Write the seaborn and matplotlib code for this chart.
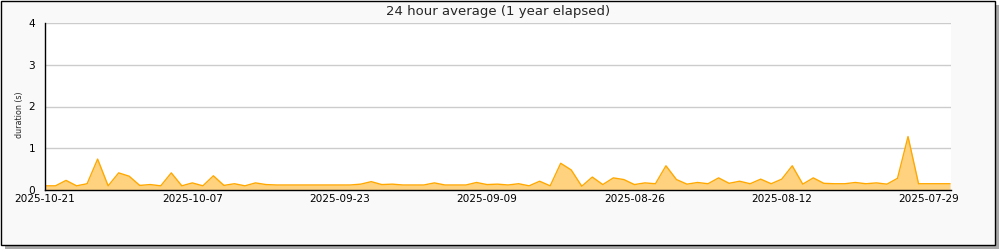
import matplotlib
matplotlib.use("Agg")
import matplotlib.pyplot as plt
import matplotlib.dates as mdates
from matplotlib.patches import Rectangle
from matplotlib.ticker import MultipleLocator
import numpy as np
import pandas as pd
import seaborn as sns

# ---- data (daily 24h averages, newest first) ----
start_date = "2025-10-21"
n_days = 87
durations = [
    0.10, 0.10, 0.23, 0.10, 0.15, 0.74, 0.10, 0.41, 0.33, 0.11,
    0.13, 0.10, 0.41, 0.10, 0.17, 0.10, 0.34, 0.11, 0.15, 0.10,
    0.17, 0.13, 0.12, 0.12, 0.12, 0.12, 0.12, 0.12, 0.12, 0.12,
    0.14, 0.20, 0.13, 0.14, 0.12, 0.12, 0.12, 0.17, 0.12, 0.12,
    0.12, 0.18, 0.13, 0.14, 0.12, 0.15, 0.10, 0.21, 0.10, 0.64,
    0.48, 0.09, 0.31, 0.13, 0.29, 0.25, 0.13, 0.17, 0.15, 0.58,
    0.25, 0.14, 0.18, 0.15, 0.29, 0.16, 0.21, 0.15, 0.26, 0.15,
    0.26, 0.58, 0.14, 0.29, 0.16, 0.15, 0.15, 0.18, 0.15, 0.17,
    0.14, 0.28, 1.28, 0.15, 0.15, 0.15, 0.15,
]
dates = pd.date_range(end=start_date, periods=n_days, freq="D")[::-1]
title = "24 hour average (1 year elapsed)"
ylabel = "duration (s)"
yticks = [0, 1, 2, 3, 4]

df = pd.DataFrame({"date": dates, "duration": durations})

sns.set_style("white")
plt.rcParams["font.family"] = ["DejaVu Sans"]

fig = plt.figure(figsize=(10, 2.5), dpi=100, facecolor="white")

# frame with drop shadow
W, H = 1000.0, 250.0
fig.patches.append(Rectangle((5 / W, 1 / H), 994 / W, 244 / H, transform=fig.transFigure,
                             facecolor="#a8a8a8", edgecolor="none", zorder=-2))
fig.patches.append(Rectangle((0.5 / W, 5.5 / H), 994 / W, 244 / H, transform=fig.transFigure,
                             facecolor="#f9f9f9", edgecolor="black", linewidth=1.0, zorder=-1))

ax = fig.add_axes([45 / W, 1 - 190 / H, (951 - 45) / W, (190 - 23) / H])
ax.set_facecolor("white")

ax.fill_between(df["date"], df["duration"], 0, color="#ffd27f", linewidth=0, zorder=2)
sns.lineplot(data=df, x="date", y="duration", ax=ax, color="#ffa800", linewidth=1.0, zorder=3)

x_left = pd.Timestamp(start_date)
x_right = dates[-1] - pd.Timedelta(hours=2)
ax.set_xlim(x_left, x_right)
ax.set_ylim(0, 4)

ax.set_yticks(yticks)
ax.yaxis.set_minor_locator(MultipleLocator(0.5))
major = pd.date_range(end=start_date, periods=7, freq="14D")
minor = pd.date_range(end=start_date, periods=13, freq="7D")
ax.set_xticks(major)
ax.set_xticks(minor, minor=True)
ax.xaxis.set_major_formatter(mdates.DateFormatter("%Y-%m-%d"))

ax.grid(axis="y", which="major", color="#cccccc", linewidth=1.0, zorder=0)
ax.set_axisbelow(True)
for s in ["top", "right"]:
    ax.spines[s].set_visible(False)
for s in ["left", "bottom"]:
    ax.spines[s].set_color("black")
    ax.spines[s].set_linewidth(1.0)
    ax.spines[s].set_zorder(5)

ax.tick_params(axis="both", which="major", direction="in", length=3.6, width=1.0,
               color="black", labelsize=7.6, labelcolor="black")
ax.tick_params(axis="y", which="minor", direction="in", length=2.4, width=1.0, color="black")
ax.tick_params(axis="x", which="minor", direction="in", length=3.6, width=1.0, color="black")
ax.tick_params(axis="x", which="major", pad=3)
ax.tick_params(axis="y", which="major", pad=7)

ax.set_xlabel("")
ax.set_ylabel(ylabel, fontsize=5.8)
ax.yaxis.set_label_coords(-21 / 906, 0.45)

fig.text(498 / W, 1 - 11 / H, title, ha="center", va="center", fontsize=9.5)

fig.savefig("out.png", dpi=100, facecolor="white")
